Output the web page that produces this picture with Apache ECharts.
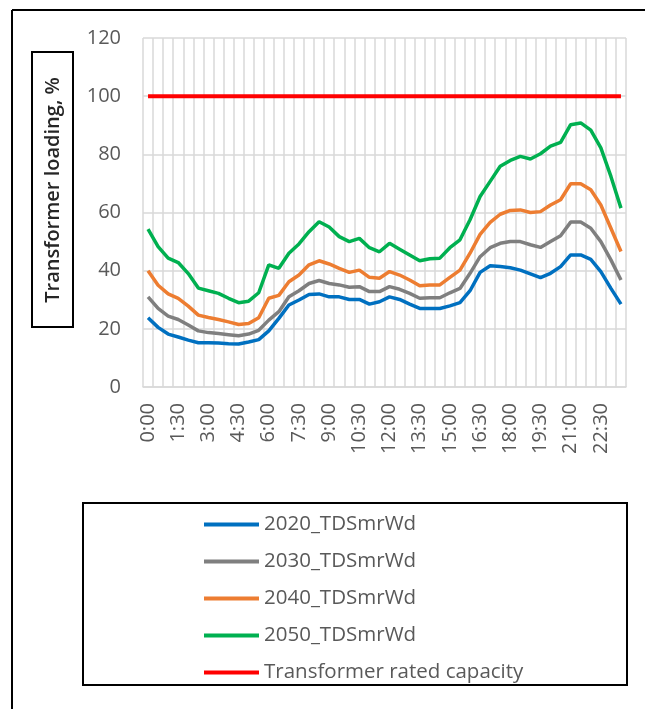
<!DOCTYPE html>
<html>
<head>
<meta charset="utf-8">
<script src="https://cdn.jsdelivr.net/npm/echarts@6/dist/echarts.min.js"></script>
<style>
  html, body { margin: 0; padding: 0; background: #fff; }
  #chart { width: 645px; height: 709px; }
</style>
</head>
<body>
<div id="chart"></div>
<script>
// half-hour steps over a summer weekday
const times = [];
for (let h = 0; h < 24; h++) {
  times.push(h + ":00", h + ":30");
}

const load2020 = [23.8, 20.5, 18.2, 17.2, 16.1, 15.2, 15.2, 15.1, 14.9, 14.8, 15.5, 16.3,
  19.3, 23.6, 28.2, 29.9, 31.8, 32.0, 31.0, 31.0, 30.1, 30.1, 28.5, 29.3,
  31.0, 30.1, 28.5, 27.0, 27.0, 27.0, 27.9, 29.0, 33.1, 39.4, 41.7, 41.4,
  41.0, 40.2, 38.9, 37.6, 39.1, 41.4, 45.4, 45.4, 43.9, 39.7, 33.9, 28.5];
const load2030 = [31.0, 27.0, 24.4, 23.2, 21.3, 19.3, 18.7, 18.4, 18.0, 17.6, 18.2, 19.5,
  23.0, 25.9, 31.0, 33.1, 35.6, 36.6, 35.6, 35.1, 34.3, 34.5, 32.8, 32.8,
  34.5, 33.6, 32.2, 30.5, 30.7, 30.7, 32.4, 33.9, 39.1, 44.8, 47.9, 49.4,
  50.0, 50.0, 48.9, 48.0, 50.0, 52.0, 56.7, 56.7, 54.6, 50.0, 43.7, 36.8];
const load2040 = [40.0, 35.0, 32.0, 30.5, 27.8, 24.7, 23.9, 23.2, 22.4, 21.5, 21.8, 23.8,
  30.5, 31.5, 36.2, 38.5, 42.0, 43.4, 42.3, 40.8, 39.4, 40.2, 37.7, 37.4,
  39.7, 38.5, 36.8, 34.8, 35.1, 35.1, 37.7, 40.2, 46.0, 52.5, 56.6, 59.4,
  60.7, 60.9, 60.0, 60.3, 62.6, 64.4, 69.9, 69.9, 67.8, 62.6, 54.6, 46.6];
const load2050 = [54.3, 48.3, 44.3, 42.8, 39.0, 34.0, 33.1, 32.2, 30.5, 29.0, 29.5, 32.4,
  42.0, 40.8, 46.0, 49.2, 53.4, 56.8, 55.0, 51.7, 50.0, 51.1, 47.9, 46.5,
  49.4, 47.4, 45.4, 43.4, 44.1, 44.3, 47.9, 50.6, 57.5, 65.5, 70.7, 75.9,
  77.9, 79.3, 78.4, 80.2, 82.8, 84.1, 90.2, 90.8, 88.3, 82.2, 72.4, 61.5];
const rated = times.map(() => 100);

const seriesNames = ["2020_TDSmrWd", "2030_TDSmrWd", "2040_TDSmrWd", "2050_TDSmrWd", "Transformer rated capacity"];
const seriesColors = ["#0070c0", "#7f7f7f", "#ed7d31", "#00b050", "#ff0000"];
const seriesData = [load2020, load2030, load2040, load2050, rated];

const font = "'Open Sans', 'Noto Sans', sans-serif";
const textGrey = "#595959";
const gridGrey = "#d9d9d9";

const chart = echarts.init(document.getElementById("chart"), null, { renderer: "canvas" });

chart.setOption({
  backgroundColor: "#fff",
  animation: false,
  grid: { left: 143, right: 19, top: 38, bottom: 322 },
  xAxis: {
    type: "category",
    data: times,
    boundaryGap: true,
    axisLine: { lineStyle: { color: gridGrey, width: 1.5 } },
    axisTick: { show: false },
    axisLabel: {
      interval: 2,
      rotate: 90,
      margin: 16,
      color: textGrey,
      fontSize: 20,
      fontFamily: font,
    },
    splitLine: { show: true, interval: 0, lineStyle: { color: gridGrey, width: 1.5 } },
  },
  yAxis: {
    type: "value",
    min: 0,
    max: 120,
    interval: 20,
    axisLine: { show: false },
    axisTick: { show: false },
    axisLabel: { margin: 22, color: textGrey, fontSize: 20, fontFamily: font },
    splitLine: { lineStyle: { color: gridGrey, width: 1.5 } },
  },
  legend: {
    orient: "vertical",
    left: 199,
    top: 509,
    icon: "rect",
    itemWidth: 55,
    itemHeight: 4,
    itemGap: 16,
    textStyle: { color: textGrey, fontSize: 20.5, lineHeight: 20, fontFamily: font },
    data: seriesNames,
  },
  series: seriesNames.map((name, i) => ({
    name,
    type: "line",
    data: seriesData[i],
    symbol: "none",
    color: seriesColors[i],
    lineStyle: { color: seriesColors[i], width: i === 4 ? 4 : 3.5 },
    z: i === 4 ? 3 : 2,
  })),
  graphic: [
    // outer frame (top and left edges visible)
    { type: "line", shape: { x1: 12, y1: 10, x2: 645, y2: 10 }, style: { stroke: "#000", lineWidth: 2 } },
    { type: "line", shape: { x1: 12, y1: 10, x2: 12, y2: 709 }, style: { stroke: "#000", lineWidth: 2 } },
    // axis title box
    { type: "rect", shape: { x: 32, y: 52, width: 41, height: 275 }, style: { fill: "#fff", stroke: "#000", lineWidth: 2 } },
    {
      type: "text",
      x: 53,
      y: 190,
      rotation: Math.PI / 2,
      style: {
        text: "Transformer loading, %",
        fill: "#262626",
        font: "600 20px " + font,
        align: "center",
        verticalAlign: "middle",
      },
    },
    // legend box
    { type: "rect", z: -1, shape: { x: 83, y: 503, width: 544, height: 182 }, style: { fill: "none", stroke: "#000", lineWidth: 2 } },
  ],
});
</script>
</body>
</html>
